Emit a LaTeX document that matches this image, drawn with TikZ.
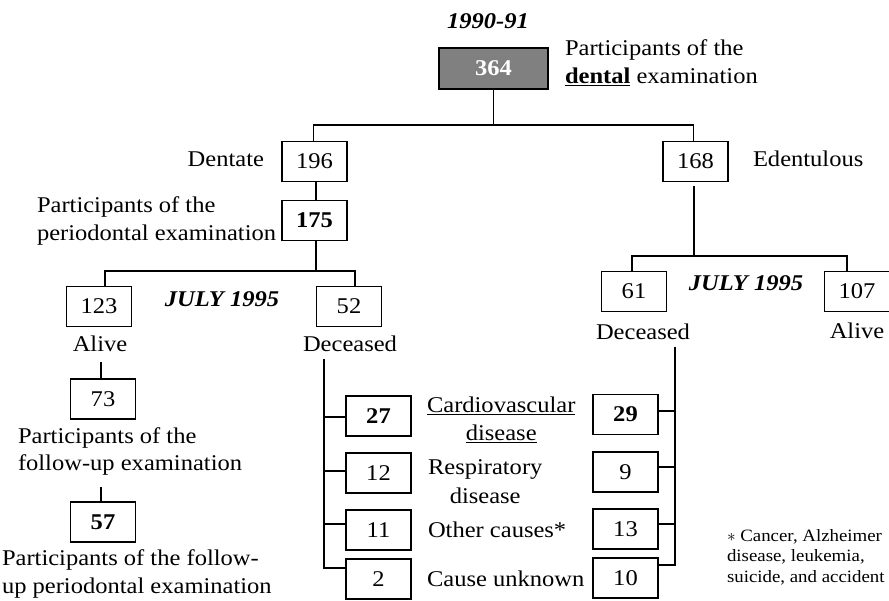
\documentclass[tikz,border=0pt]{standalone}
\usepackage{fontspec}
\setmainfont{Liberation Serif}[FakeStretch=1.09]
\newcommand{\fsmain}{\fontsize{22.5}{28}\selectfont}
\newcommand{\fsnote}{\fontsize{17.3}{20.5}\selectfont}
\definecolor{boxgray}{RGB}{128,128,128}
\begin{document}
\begin{tikzpicture}[x=1pt,y=-1pt,
  every node/.style={inner sep=0pt, outer sep=0pt},
  numbox/.style={draw, line width=1.1pt, minimum width=65pt, minimum height=40pt, font=\fsmain},
  lbl/.style={font=\fsmain},
  note/.style={font=\fsnote},
  conn/.style={line width=1.1pt}]
\useasboundingbox (0,0) rectangle (889,601);

% boxes
\node[numbox, fill=boxgray, minimum width=109pt, minimum height=41pt, text=white, font=\fsmain\bfseries] (n364) at (493.5,68.5) {364};
\node[numbox] (n196) at (314.5,161.5) {196};
\node[numbox] (n168) at (695.5,161.5) {168};
\node[numbox, font=\fsmain\bfseries] (n175) at (314.5,220.5) {175};
\node[numbox] (n123) at (99,306.5) {123};
\node[numbox] (n52) at (349,306.5) {52};
\node[numbox] (n61) at (634,291.5) {61};
\node[numbox] (n107) at (857,291.5) {107};
\node[numbox] (n73) at (103,399) {73};
\node[numbox, font=\fsmain\bfseries] (n57) at (103,522) {57};
\node[numbox, font=\fsmain\bfseries] (n27) at (378.5,416) {27};
\node[numbox] (n12) at (378.5,473) {12};
\node[numbox] (n11) at (378.5,530) {11};
\node[numbox] (n2) at (378.5,579) {2};
\node[numbox, font=\fsmain\bfseries] (n29) at (625.5,414.5) {29};
\node[numbox] (n9) at (625.5,472) {9};
\node[numbox] (n13) at (625.5,529) {13};
\node[numbox] (n10) at (625.5,578) {10};

% labels
\node[lbl, anchor=base] (y9091) at (488,29) {\textbf{\textit{1990-91}}};
\node[lbl, anchor=base west] (pd1) at (565,56) {Participants of the};
\node[lbl, anchor=base west] (pd2) at (565,84) {\underline{\textbf{dental}} examination};
\node[lbl, anchor=base east] (dent) at (264,167) {Dentate};
\node[lbl, anchor=base west] (edent) at (753,167) {Edentulous};
\node[lbl, anchor=base west] (pp1) at (37,213) {Participants of the};
\node[lbl, anchor=base west] (pp2) at (37,241) {periodontal examination};
\node[lbl, anchor=base] (jul1) at (222,307) {\textbf{\textit{JULY 1995}}};
\node[lbl, anchor=base] (jul2) at (746,291) {\textbf{\textit{JULY 1995}}};
\node[lbl, anchor=base] (alive1) at (100,352) {Alive};
\node[lbl, anchor=base] (dec1) at (350,352) {Deceased};
\node[lbl, anchor=base] (dec2) at (643,340) {Deceased};
\node[lbl, anchor=base] (alive2) at (857,339) {Alive};
\node[lbl, anchor=base west] (fu1) at (18,443) {Participants of the};
\node[lbl, anchor=base west] (fu2) at (18,471) {follow-up examination};
\node[lbl, anchor=base west] (fp1) at (2,565) {Participants of the follow-};
\node[lbl, anchor=base west] (fp2) at (2,593) {up periodontal examination};
\node[lbl, anchor=base west] (cv1) at (427,413) {\underline{Cardiovascular}};
\node[lbl, anchor=base] (cv2) at ([yshift=-28pt]cv1.base) {\underline{disease}};
\node[lbl, anchor=base west] (rs1) at (428,475) {Respiratory};
\node[lbl, anchor=base] (rs2) at ([yshift=-28pt]rs1.base) {disease};
\node[lbl, anchor=base west] (oc) at (428,537) {Other causes*};
\node[lbl, anchor=base west] (cu) at (427,586) {Cause unknown};
\node[note, anchor=base west] (fn1) at (727,541) {$\ast$ Cancer, Alzheimer};
\node[note, anchor=base west] (fn2) at (727,561) {disease, leukemia,};
\node[note, anchor=base west] (fn3) at (727,582) {suicide, and accident};

% connectors
\coordinate (j0) at (493.5,125);
\draw[conn] (n364.south) -- (j0);
\draw[conn] ([xshift=-1pt]n196.north) |- (j0) -| ([xshift=-2pt]n168.north);
\draw[conn] ([xshift=1.5pt]n196.south) -- ([xshift=1.5pt]n175.north);
\coordinate (j1) at (316,271);
\draw[conn] ([xshift=1.5pt]n175.south) -- (j1);
\draw[conn] ([xshift=6pt]n123.north) |- (j1) -| ([xshift=6pt]n52.north);
\coordinate (j2) at (694,256);
\draw[conn, shorten <=5pt] ([xshift=-1.5pt]n168.south) -- (j2);
\draw[conn] ([xshift=-2pt]n61.north) |- (j2) -| ([xshift=-10pt]n107.north);
\coordinate (a1) at (101,362);
\draw[conn] (a1) -- (a1 |- n73.north);
\coordinate (a2) at (101,487);
\draw[conn] (a2) -- (a2 |- n57.north);
\coordinate (vl) at (324,359);
\draw[conn] (vl) |- ([yshift=-1pt]n27.west);
\draw[conn] (vl) |- ([yshift=2pt]n12.west);
\draw[conn] (vl) |- ([yshift=6pt]n11.west);
\draw[conn] (vl) |- ([yshift=11pt]n2.west);
\coordinate (vr) at (675,347);
\draw[conn] (vr) |- ([yshift=3.5pt]n29.east);
\draw[conn] (vr) |- ([yshift=5pt]n9.east);
\draw[conn] (vr) |- ([yshift=5pt]n13.east);
\draw[conn] (vr) |- ([yshift=13pt]n10.east);
\end{tikzpicture}
\end{document}
